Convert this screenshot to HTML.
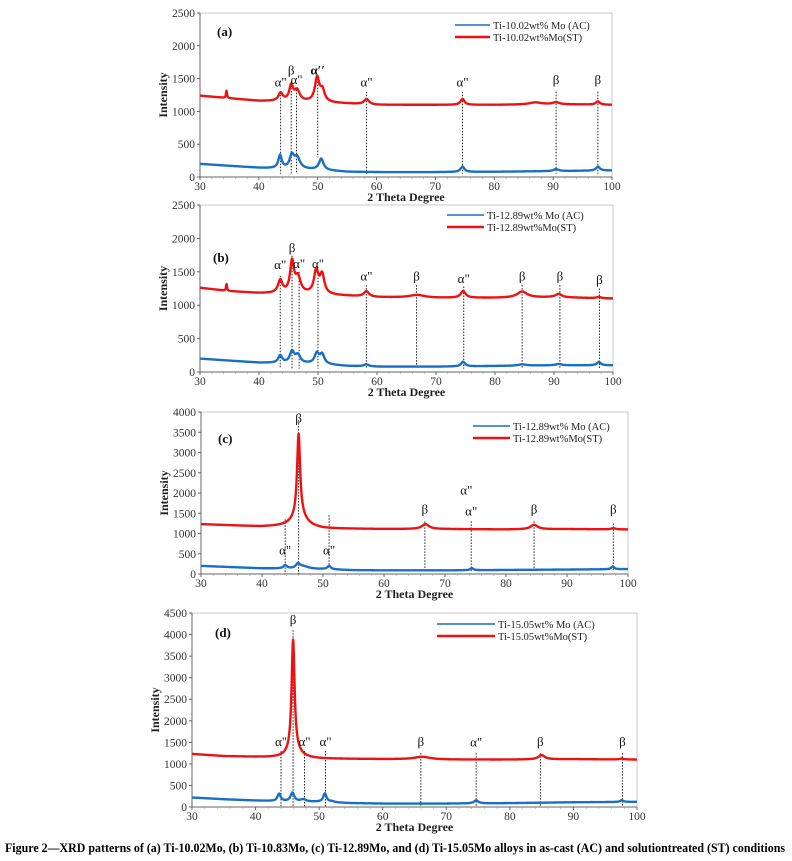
<!DOCTYPE html>
<html><head><meta charset="utf-8"><style>
html,body{margin:0;padding:0;background:#fff;}
svg{display:block;font-family:"Liberation Serif",serif;}
</style></head><body>
<svg id="fig" width="792" height="861" viewBox="0 0 792 861" xmlns="http://www.w3.org/2000/svg">
<text x="5" y="852" font-size="12.5" font-weight="bold" textLength="780" lengthAdjust="spacingAndGlyphs">Figure 2—XRD patterns of (a) Ti-10.02Mo, (b) Ti-10.83Mo, (c) Ti-12.89Mo, and (d) Ti-15.05Mo alloys in as-cast (AC) and solutiontreated (ST) conditions</text>
</svg>
<script>
// ---- data (2θ positions, intensities) ----
const xTicks = [30,40,50,60,70,80,90,100];
const yTicksA = [0,500,1000,1500,2000,2500];
const yTicksC = [0,500,1000,1500,2000,2500,3000,3500,4000];
const yTicksD = [0,500,1000,1500,2000,2500,3000,3500,4000,4500];

// baselines: [2θ, intensity]
const baseSTx = [30,35,40,45,50,60,70,80,90,100];
const baseSTa = [1240,1200,1160,1150,1140,1100,1100,1100,1110,1100];
const baseSTb = [1260,1210,1180,1170,1160,1120,1110,1110,1120,1100];
const baseSTc = [1230,1200,1170,1180,1120,1110,1110,1100,1110,1100];
const baseSTd = [1230,1180,1160,1140,1120,1110,1100,1100,1110,1100];
const baseACx = [30,35,40,45,50,55,60,70,80,90,100];
const baseACa = [200,170,140,120,110,80,75,75,80,90,100];
const baseACb = [200,170,140,130,120,90,80,80,90,100,100];
const baseACc = [200,170,140,130,120,95,90,90,100,110,120];
const baseACd = [220,180,150,130,120,90,80,80,90,110,120];

// peaks: positions, heights, widths
const pkSTaPos = [34.5,43.7,45.5,46.5,49.9,50.8,58.3,74.6,87,90.5,97.6];
const pkSTaH   = [110,120,230,160,360,170,80,90,30,30,50];
const pkSTaW   = [0.1,0.45,0.4,0.55,0.45,0.45,0.5,0.4,1.2,0.6,0.4];
const pkACaPos = [43.6,45.6,46.5,50.6,74.6,90.5,97.6];
const pkACaH   = [200,190,170,170,80,30,60];
const pkACaW   = [0.35,0.45,0.6,0.45,0.4,0.5,0.4];

const pkSTbPos = [34.5,43.6,45.6,46.6,49.7,50.7,58.2,66.8,74.6,84.6,90.8,97.6];
const pkSTbH   = [100,190,460,230,340,280,80,40,100,90,50,20];
const pkSTbW   = [0.1,0.45,0.4,0.55,0.45,0.45,0.5,1.5,0.5,1.0,0.6,0.4];
const pkACbPos = [43.6,45.6,46.6,49.8,50.7,58.2,74.6,84.6,90.8,97.6];
const pkACbH   = [110,170,120,150,140,30,70,20,20,50];
const pkACbW   = [0.4,0.45,0.5,0.45,0.45,0.5,0.4,0.8,0.6,0.4];

const pkSTcPos = [46,46.2,66.8,84.6,97.6];
const pkSTcH   = [2050,250,120,110,30];
const pkSTcW   = [0.3,1.4,0.7,0.7,0.4];
const pkACcPos = [43.8,45.9,46.8,51,74.4,97.5];
const pkACcH   = [80,110,60,80,50,70];
const pkACcW   = [0.35,0.4,1.0,0.35,0.3,0.3];

const pkSTdPos = [45.9,46.1,66.2,85,97.6];
const pkSTdH   = [2600,150,60,100,20];
const pkSTdW   = [0.28,1.2,1.5,0.6,0.4];
const pkACdPos = [43.7,45.8,47.5,50.9,52,74.7,97.6];
const pkACdH   = [170,200,50,200,20,70,40];
const pkACdW   = [0.3,0.35,0.5,0.3,0.5,0.4,0.3];

// annotations: 2θ, label, label intensity, dotted line top, bottom
const annAx = [43.7,45.5,46.4,50,58.3,74.6,90.5,97.6];
const annAt = ['α"','β','α"','α′′','α"','α"','β','β'];
const annAy = [1380,1560,1420,1560,1380,1380,1420,1420];
const annAtop = [1300,1450,1330,1500,1300,1300,1300,1300];
const annAbot = [50,50,50,300,50,50,50,50];
const annBx = [43.6,45.6,46.8,50,58.2,66.7,74.7,84.6,91,97.7];
const annBt = ['α"','β','α"','α"','α"','β','α"','β','β','β'];
const annBy = [1540,1800,1560,1560,1370,1370,1330,1370,1370,1320];
const annBtop = [1440,1740,1500,1500,1300,1300,1280,1300,1300,1250];
const annBbot = [50,50,50,50,50,50,50,50,50,50];
const annCx = [43.8,46,51,66.7,73.5,74.3,84.6,97.6];
const annCt = ['α"','β','α"','β','α"','α"','β','β'];
const annCy = [480,3740,480,1500,1960,1450,1500,1500];
const annCtop = [1350,3800,1450,1300,null,1300,1300,1250];
const annCbot = [0,0,200,60,null,60,60,60];
const annDx = [44,45.9,47.7,51,66,74.7,84.8,97.7];
const annDt = ['α"','β','α"','α"','β','α"','β','β'];
const annDy = [1420,4250,1420,1420,1420,1400,1420,1420];
const annDtop = [1300,4100,1300,1300,1250,1250,1250,1250];
const annDbot = [20,20,20,20,20,20,20,20];

const NS = 'http://www.w3.org/2000/svg';
const svg = document.getElementById('fig');
function mk(tag, attrs, parent){ const e=document.createElementNS(NS,tag); for(const k in attrs) e.setAttribute(k,attrs[k]); (parent||svg).appendChild(e); return e; }
function interp(xs, ys, x){ for(let i=0;i<xs.length-1;i++){ if(x<=xs[i+1]) { const t=(x-xs[i])/(xs[i+1]-xs[i]); return ys[i]+t*(ys[i+1]-ys[i]); } } return ys[ys.length-1]; }
function pattern(bx,by,pos,h,w,x){ let v=interp(bx,by,x); for(let i=0;i<pos.length;i++){ const d=(x-pos[i])/w[i]; v+=h[i]/(1+d*d);} return v; }

function panel(p){
  const g = mk('g',{});
  
  
  const sx = v => p.x0 + (v-30)/70*(p.x1-p.x0);
  const sy = v => p.y0 - v/p.ymax*(p.y0-p.yTop);
  const fr = mk('rect',{x:p.x0,y:p.yTop,width:p.x1-p.x0,height:p.y0-p.yTop,fill:'none',stroke:'#bbb','stroke-width':0.8},g);
   
  const ya = mk('line',{x1:p.x0,y1:p.yTop,x2:p.x0,y2:p.y0,stroke:'#666','stroke-width':1},g);
   
  const xa = mk('line',{x1:p.x0,y1:p.y0,x2:p.x1,y2:p.y0,stroke:'#666','stroke-width':1},g);
   
  p.yt.forEach(v=>{
    const t = mk('text',{x:p.x0-5,y:sy(v)+4,'font-size':11.5,'text-anchor':'end',fill:'#333'},g);
    t.textContent = v;
     
    mk('line',{x1:p.x0-3,y1:sy(v),x2:p.x0,y2:sy(v),stroke:'#666'},g);
  });
  xTicks.forEach(v=>{
    const t = mk('text',{x:sx(v),y:p.y0+13,'font-size':11.5,'text-anchor':'middle',fill:'#333'},g);
    t.textContent = v;
     
    mk('line',{x1:sx(v),y1:p.y0,x2:sx(v),y2:p.y0+3,stroke:'#666'},g);
  });
  for(let v=32;v<100;v+=2){ if(v%10) mk('line',{x1:sx(v),y1:p.y0,x2:sx(v),y2:p.y0+2,stroke:'#999','stroke-width':0.6},g); }
  const xt = mk('text',{x:(p.x0+p.x1)/2,y:p.y0+24,'font-size':12,'font-weight':'bold','text-anchor':'middle',fill:'#222'},g);
  xt.textContent='2 Theta Degree';
   
  const ytl = mk('text',{x:0,y:0,'font-size':12,'font-weight':'bold','text-anchor':'middle',fill:'#222',transform:`translate(${p.x0-33},${(p.yTop+p.y0)/2}) rotate(-90)`},g);
  ytl.textContent='Intensity';
   
  const pl = mk('text',{x:p.lblX,y:p.lblY,'font-size':13,'font-weight':'bold',fill:'#111'},g);
  pl.textContent='('+p.id+')';
   
  p.ax.forEach((v,i)=>{
    if(p.atop[i]!==null){
      const l = mk('line',{x1:sx(v),y1:sy(p.atop[i]),x2:sx(v),y2:sy(p.abot[i]),stroke:'#222','stroke-width':1,'stroke-dasharray':'1.5,1.5'},g);
       
    }
  });
  const series = [[baseACx,p.bAC,p.acP,p.acH,p.acW,'#1a6fc4','ac'],[baseSTx,p.bST,p.stP,p.stH,p.stW,'#ee1111','st']];
  series.forEach(s=>{
    let d='';
    for(let x=30;x<=100.001;x+=0.05){ const y=pattern(s[0],s[1],s[2],s[3],s[4],x); d+=(d?'L':'M')+sx(x).toFixed(2)+','+sy(y).toFixed(2); }
    const path = mk('path',{d:d,fill:'none',stroke:s[5],'stroke-width':2.4,'stroke-linejoin':'round'},g);
     
  });
  p.ax.forEach((v,i)=>{
    const t = mk('text',{x:sx(v),y:sy(p.ay[i]),'font-size':13,'text-anchor':'middle',fill:'#111','font-weight':p.at[i]==='α′′'?'bold':'normal'},g);
    t.textContent = p.at[i];
     
  });
  const lg = mk('g',{},g);
   
  [[p.leg[0],'#1a6fc4',1.5],[p.leg[1],'#ee1111',2.5]].forEach((e,i)=>{
    const y = p.legY + i*12;
    const en = mk('g',{},lg);
     
    mk('line',{x1:p.legX,y1:y,x2:p.legX+p.legL,y2:y,stroke:e[1],'stroke-width':e[2]},en);
    const t = mk('text',{x:p.legX+p.legL+3,y:y+4,'font-size':10.5,fill:'#222'},en);
    t.textContent = e[0];
  });
}

panel({id:'a',x0:200,x1:612,yTop:13,y0:177,ymax:2500,yt:yTicksA,lblX:217,lblY:36,
  bST:baseSTa,bAC:baseACa,stP:pkSTaPos,stH:pkSTaH,stW:pkSTaW,acP:pkACaPos,acH:pkACaH,acW:pkACaW,
  ax:annAx,at:annAt,ay:annAy,atop:annAtop,abot:annAbot,
  leg:['Ti-10.02wt% Mo (AC)','Ti-10.02wt%Mo(ST)'],legX:455,legY:25,legL:35});
panel({id:'b',x0:200,x1:613,yTop:205,y0:372,ymax:2500,yt:yTicksA,lblX:213,lblY:262,
  bST:baseSTb,bAC:baseACb,stP:pkSTbPos,stH:pkSTbH,stW:pkSTbW,acP:pkACbPos,acH:pkACbH,acW:pkACbW,
  ax:annBx,at:annBt,ay:annBy,atop:annBtop,abot:annBbot,
  leg:['Ti-12.89wt% Mo (AC)','Ti-12.89wt%Mo(ST)'],legX:447,legY:215,legL:37});
panel({id:'c',x0:201,x1:628,yTop:412,y0:574,ymax:4000,yt:yTicksC,lblX:218,lblY:443,
  bST:baseSTc,bAC:baseACc,stP:pkSTcPos,stH:pkSTcH,stW:pkSTcW,acP:pkACcPos,acH:pkACcH,acW:pkACcW,
  ax:annCx,at:annCt,ay:annCy,atop:annCtop,abot:annCbot,
  leg:['Ti-12.89wt% Mo (AC)','Ti-12.89wt%Mo(ST)'],legX:473,legY:426,legL:37});
panel({id:'d',x0:192,x1:637,yTop:613,y0:807,ymax:4500,yt:yTicksD,lblX:215,lblY:637,
  bST:baseSTd,bAC:baseACd,stP:pkSTdPos,stH:pkSTdH,stW:pkSTdW,acP:pkACdPos,acH:pkACdH,acW:pkACdW,
  ax:annDx,at:annDt,ay:annDy,atop:annDtop,abot:annDbot,
  leg:['Ti-15.05wt% Mo (AC)','Ti-15.05wt%Mo(ST)'],legX:437,legY:624,legL:58});
</script>
</body></html>
